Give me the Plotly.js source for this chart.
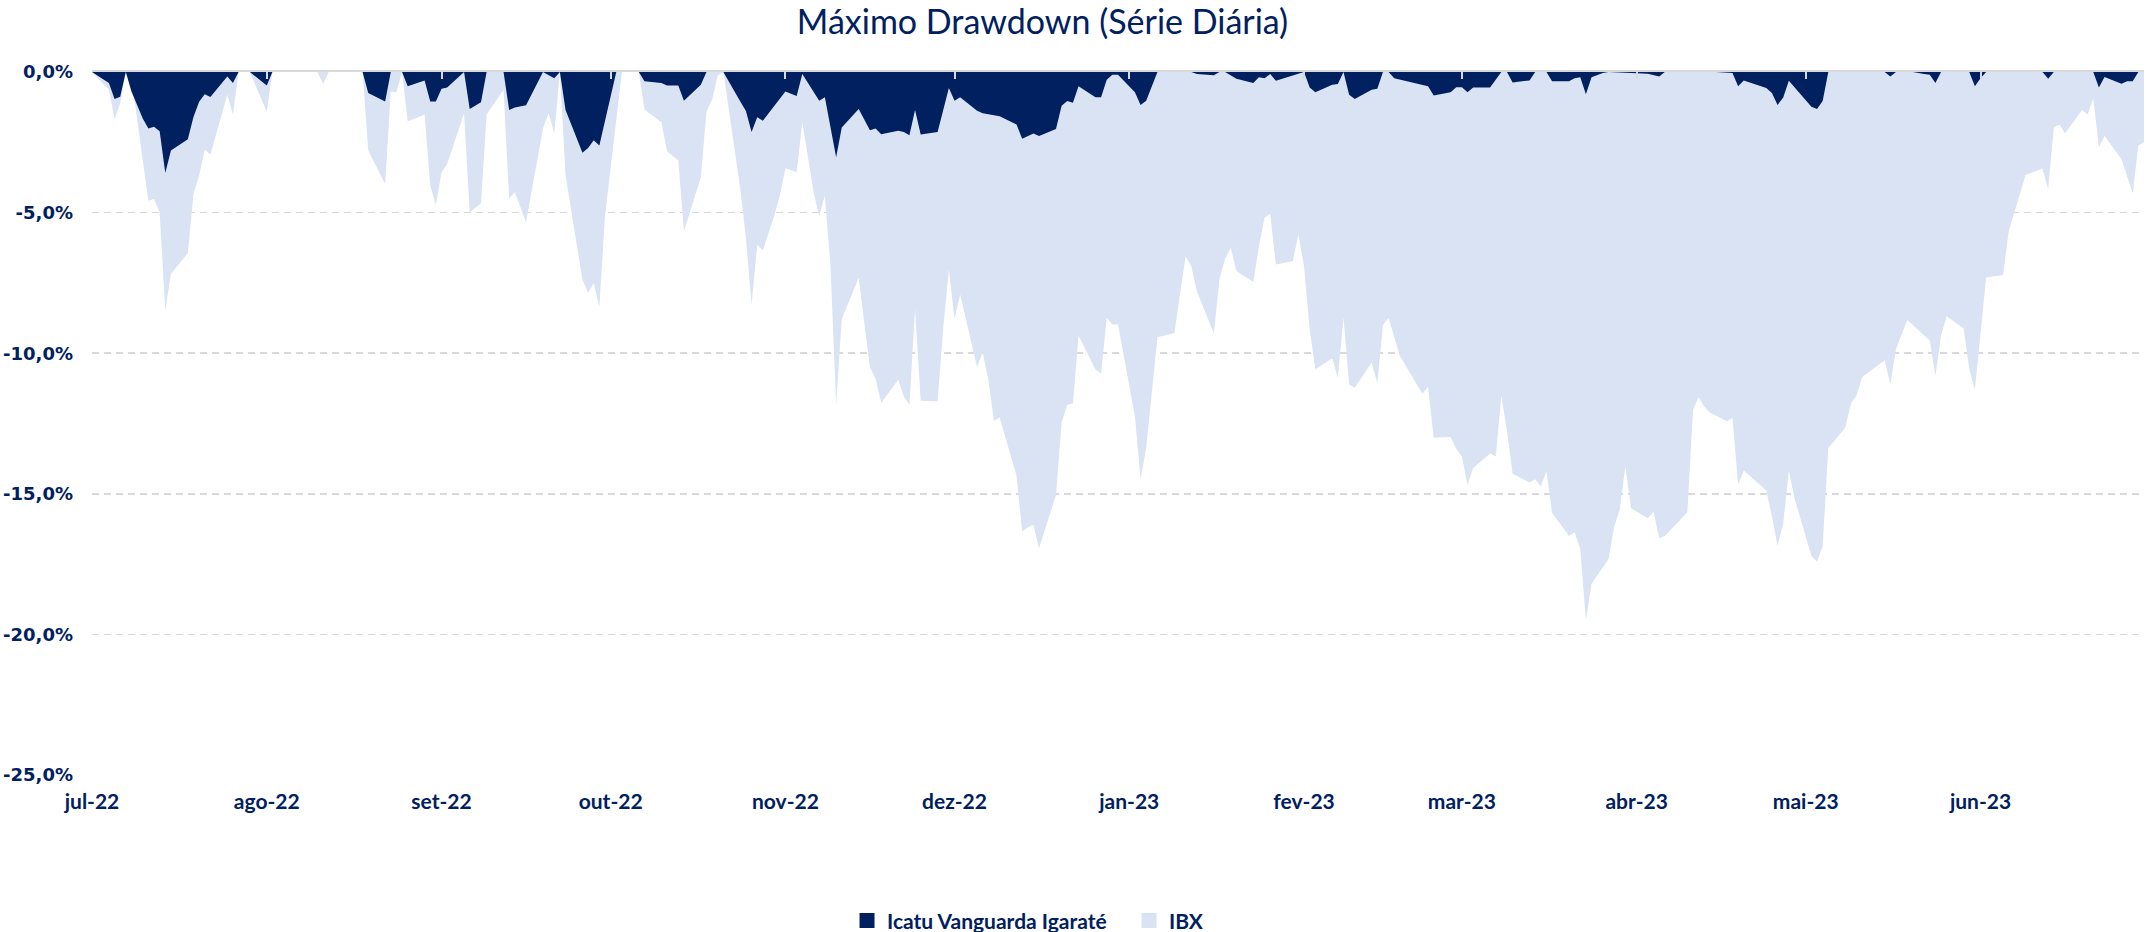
<!DOCTYPE html>
<html>
<head>
<meta charset="utf-8">
<script src="https://cdn.plot.ly/plotly-3.0.1.min.js"></script>
<style>
html,body{margin:0;padding:0;background:#fff;}
#chart{width:2146px;height:932px;}
</style>
</head>
<body>
<div id="chart"></div>
<script>
// ---- data (drawdown, %) ----
const ibxDates = ['2022-07-01','2022-07-04','2022-07-05','2022-07-06','2022-07-07','2022-07-08','2022-07-11','2022-07-12','2022-07-13','2022-07-14','2022-07-15','2022-07-18','2022-07-19','2022-07-20','2022-07-21','2022-07-22','2022-07-25','2022-07-26','2022-07-27','2022-07-29','2022-08-01','2022-08-02','2022-08-10','2022-08-11','2022-08-12','2022-08-18','2022-08-19','2022-08-22','2022-08-23','2022-08-24','2022-08-25','2022-08-26','2022-08-29','2022-08-30','2022-08-31','2022-09-01','2022-09-02','2022-09-05','2022-09-06','2022-09-08','2022-09-09','2022-09-12','2022-09-13','2022-09-14','2022-09-16','2022-09-19','2022-09-20','2022-09-21','2022-09-22','2022-09-23','2022-09-26','2022-09-27','2022-09-28','2022-09-29','2022-09-30','2022-10-03','2022-10-06','2022-10-07','2022-10-10','2022-10-11','2022-10-13','2022-10-14','2022-10-17','2022-10-18','2022-10-19','2022-10-20','2022-10-21','2022-10-24','2022-10-25','2022-10-26','2022-10-27','2022-10-28','2022-10-30','2022-10-31','2022-11-01','2022-11-03','2022-11-04','2022-11-05','2022-11-06','2022-11-07','2022-11-08','2022-11-09','2022-11-10','2022-11-11','2022-11-14','2022-11-16','2022-11-17','2022-11-18','2022-11-21','2022-11-22','2022-11-23','2022-11-24','2022-11-25','2022-11-28','2022-11-29','2022-11-30','2022-12-01','2022-12-02','2022-12-05','2022-12-06','2022-12-07','2022-12-08','2022-12-09','2022-12-12','2022-12-13','2022-12-14','2022-12-15','2022-12-16','2022-12-19','2022-12-20','2022-12-21','2022-12-22','2022-12-23','2022-12-26','2022-12-27','2022-12-28','2022-12-29','2022-12-30','2023-01-02','2023-01-03','2023-01-04','2023-01-06','2023-01-09','2023-01-11','2023-01-12','2023-01-13','2023-01-16','2023-01-17','2023-01-18','2023-01-19','2023-01-20','2023-01-23','2023-01-24','2023-01-25','2023-01-26','2023-01-27','2023-01-30','2023-01-31','2023-02-01','2023-02-02','2023-02-03','2023-02-06','2023-02-07','2023-02-08','2023-02-09','2023-02-10','2023-02-13','2023-02-14','2023-02-15','2023-02-16','2023-02-17','2023-02-18','2023-02-22','2023-02-23','2023-02-24','2023-02-27','2023-02-28','2023-03-01','2023-03-02','2023-03-03','2023-03-06','2023-03-07','2023-03-08','2023-03-09','2023-03-10','2023-03-13','2023-03-14','2023-03-15','2023-03-16','2023-03-17','2023-03-20','2023-03-21','2023-03-22','2023-03-23','2023-03-24','2023-03-27','2023-03-28','2023-03-29','2023-03-30','2023-03-31','2023-04-03','2023-04-04','2023-04-05','2023-04-06','2023-04-10','2023-04-11','2023-04-12','2023-04-13','2023-04-14','2023-04-17','2023-04-18','2023-04-19','2023-04-20','2023-04-24','2023-04-25','2023-04-26','2023-04-27','2023-04-28','2023-04-29','2023-05-02','2023-05-03','2023-05-04','2023-05-05','2023-05-08','2023-05-09','2023-05-10','2023-05-11','2023-05-15','2023-05-16','2023-05-17','2023-05-19','2023-05-23','2023-05-24','2023-05-25','2023-05-26','2023-05-29','2023-05-30','2023-05-31','2023-06-02','2023-06-05','2023-06-06','2023-06-07','2023-06-09','2023-06-12','2023-06-13','2023-06-14','2023-06-15','2023-06-16','2023-06-19','2023-06-20','2023-06-21','2023-06-22','2023-06-23','2023-06-26','2023-06-27','2023-06-28','2023-06-29','2023-06-30'];
const ibxValues = [0,-0.63,-1.67,-1.11,0,-0.22,-4.58,-4.52,-5.0,-8.47,-7.18,-6.44,-4.34,-3.68,-2.75,-2.94,-0.81,-1.51,0,0,-1.41,0,0,-0.43,0,0,-2.79,-3.98,-0.69,-0.72,0,-1.75,-1.51,-4.04,-4.74,-3.57,-3.27,-1.47,-5.0,-4.67,-1.51,-0.63,-4.50,-4.28,-5.33,-2.01,-1.47,-2.19,0,-3.68,-7.39,-7.85,-7.51,-8.35,-5.12,0,0,-1.33,-1.79,-2.82,-3.15,-5.66,-3.74,-1.41,-0.99,-0.12,0,-4.16,-5.9,-8.28,-6.15,-6.35,-5.12,-4.40,-3.42,-3.56,-1.79,-3.09,-4.28,-5.12,-4.40,-6.9,-11.83,-8.78,-7.32,-10.52,-10.91,-11.77,-10.94,-11.53,-11.83,-8.42,-11.69,-11.71,-9.10,-7.02,-8.78,-7.91,-10.49,-9.97,-10.94,-12.40,-12.28,-14.36,-16.34,-16.20,-16.10,-16.94,-15.04,-12.46,-11.83,-11.79,-9.37,-10.58,-10.72,-8.74,-8.98,-8.98,-12.24,-14.48,-13.37,-9.43,-9.28,-6.55,-6.91,-7.81,-9.30,-7.37,-6.63,-6.25,-7.08,-7.47,-6.2,-5.18,-5.04,-6.85,-6.73,-5.78,-6.92,-9.14,-10.57,-10.19,-10.87,-8.73,-11.11,-11.23,-10.33,-11.07,-9.0,-8.75,-9.45,-10.1,-11.44,-11.19,-13.01,-12.98,-13.40,-13.67,-14.68,-14.08,-13.57,-13.67,-11.52,-12.77,-14.29,-14.60,-14.48,-14.74,-14.2,-15.67,-16.5,-16.37,-16.96,-19.5,-18.2,-17.33,-16.18,-15.56,-14.02,-15.51,-15.87,-15.63,-16.58,-16.5,-15.66,-12.02,-11.56,-11.9,-12.11,-12.42,-12.30,-14.68,-14.17,-14.88,-15.81,-16.86,-16.05,-14.2,-15.15,-17.21,-17.42,-16.86,-13.37,-12.65,-11.79,-11.5,-10.85,-10.25,-11.11,-9.86,-8.82,-9.55,-10.81,-9.36,-8.69,-9.12,-10.55,-11.31,-7.31,-7.22,-5.66,-5.0,-3.66,-3.44,-4.16,-1.97,-1.87,-2.19,-1.35,-1.51,-0.93,-2.67,-2.28,-3.09,-3.68,-4.31,-2.61,-2.5];

const fundDates = ['2022-07-01','2022-07-04','2022-07-05','2022-07-06','2022-07-07','2022-07-08','2022-07-10','2022-07-11','2022-07-12','2022-07-13','2022-07-14','2022-07-15','2022-07-18','2022-07-19','2022-07-20','2022-07-21','2022-07-22','2022-07-25','2022-07-26','2022-07-27','2022-07-29','2022-08-01','2022-08-02','2022-08-18','2022-08-19','2022-08-22','2022-08-23','2022-08-25','2022-08-26','2022-08-29','2022-08-30','2022-08-31','2022-09-01','2022-09-02','2022-09-05','2022-09-06','2022-09-08','2022-09-09','2022-09-12','2022-09-13','2022-09-14','2022-09-16','2022-09-19','2022-09-21','2022-09-22','2022-09-23','2022-09-26','2022-09-27','2022-09-28','2022-09-29','2022-10-02','2022-10-06','2022-10-07','2022-10-10','2022-10-11','2022-10-13','2022-10-14','2022-10-17','2022-10-18','2022-10-21','2022-10-24','2022-10-25','2022-10-26','2022-10-27','2022-10-28','2022-11-01','2022-11-03','2022-11-04','2022-11-07','2022-11-08','2022-11-10','2022-11-11','2022-11-14','2022-11-16','2022-11-17','2022-11-18','2022-11-21','2022-11-22','2022-11-23','2022-11-24','2022-11-25','2022-11-28','2022-11-30','2022-12-01','2022-12-02','2022-12-05','2022-12-06','2022-12-07','2022-12-09','2022-12-12','2022-12-13','2022-12-15','2022-12-16','2022-12-19','2022-12-20','2022-12-21','2022-12-22','2022-12-23','2022-12-26','2022-12-27','2022-12-28','2022-12-29','2022-12-30','2023-01-02','2023-01-03','2023-01-04','2023-01-06','2023-01-12','2023-01-13','2023-01-16','2023-01-17','2023-01-18','2023-01-20','2023-01-23','2023-01-24','2023-01-25','2023-01-26','2023-01-27','2023-01-31','2023-02-01','2023-02-02','2023-02-03','2023-02-06','2023-02-07','2023-02-08','2023-02-09','2023-02-10','2023-02-13','2023-02-14','2023-02-15','2023-02-16','2023-02-17','2023-02-23','2023-02-24','2023-02-27','2023-02-28','2023-03-01','2023-03-02','2023-03-03','2023-03-06','2023-03-08','2023-03-09','2023-03-10','2023-03-13','2023-03-14','2023-03-16','2023-03-17','2023-03-20','2023-03-21','2023-03-22','2023-03-23','2023-03-24','2023-03-26','2023-03-27','2023-04-03','2023-04-05','2023-04-06','2023-04-15','2023-04-18','2023-04-19','2023-04-20','2023-04-24','2023-04-25','2023-04-26','2023-04-27','2023-04-28','2023-05-02','2023-05-03','2023-05-04','2023-05-05','2023-05-15','2023-05-16','2023-05-17','2023-05-20','2023-05-22','2023-05-23','2023-05-24','2023-05-25','2023-05-30','2023-05-31','2023-06-01','2023-06-02','2023-06-12','2023-06-13','2023-06-14','2023-06-21','2023-06-22','2023-06-23','2023-06-26','2023-06-27','2023-06-28','2023-06-29','2023-06-30'];
const fundValues = [0,-0.39,-0.96,-0.88,0,-0.69,-1.65,-2.01,-1.95,-2.11,-3.59,-2.79,-2.39,-1.6,-1.06,-0.79,-0.89,-0.16,-0.39,0,0,-0.48,0,0,-0.75,-1.05,0,0,-0.51,-0.30,-1.05,-1.05,-0.60,-0.55,0,-1.32,-1.08,0,0,-1.35,-1.26,-1.18,0,-0.22,0,-1.35,-2.87,-2.70,-2.43,-2.61,0,0,-0.33,-0.39,-0.48,-0.48,-1.02,-0.45,0,0,-1.05,-1.39,-2.13,-1.61,-1.73,-0.69,-0.85,-0.07,-1.02,-0.90,-3.03,-1.97,-1.32,-2.07,-2.01,-2.21,-2.09,-2.13,-2.25,-1.35,-2.22,-2.13,-0.57,-1.02,-0.90,-1.38,-1.47,-1.50,-1.57,-1.87,-2.37,-2.19,-2.28,-2.03,-1.20,-1.03,-1.09,-0.51,-0.90,-0.90,-0.28,-0.10,-0.10,-0.72,-1.17,-1.02,0,0,-0.07,-0.12,0,0,-0.24,-0.39,-0.19,-0.22,-0.07,-0.31,-0.07,0,-0.55,-0.72,-0.45,-0.43,0,-0.81,-0.96,-0.63,-0.60,0,0,-0.22,-0.51,-0.84,-0.72,-0.54,-0.54,-0.72,-0.55,-0.55,0,0,-0.37,-0.30,0,0,-0.33,-0.33,-0.22,-0.19,-0.79,-0.19,-0.04,0,-0.06,-0.16,0,0,-0.04,-0.51,-0.30,-0.57,-0.75,-1.17,-0.91,-0.31,-1.24,-1.32,-1.03,0,0,-0.16,0,0,-0.07,-0.10,-0.39,0,0,-0.51,-0.22,0,0,-0.24,0,0,-0.55,-0.18,-0.42,-0.33,-0.33,0,0];

const seriesNames = ['Icatu Vanguarda Igaraté', 'IBX'];
const monthTicks = ['2022-07-01','2022-08-01','2022-09-01','2022-10-01','2022-11-01','2022-12-01','2023-01-01','2023-02-01','2023-03-01','2023-04-01','2023-05-01','2023-06-01'];
const monthLabels = ['jul-22','ago-22','set-22','out-22','nov-22','dez-22','jan-23','fev-23','mar-23','abr-23','mai-23','jun-23'];
const yTicks = [0,-5,-10,-15,-20,-25];
const yLabels = ['0,0%','-5,0%','-10,0%','-15,0%','-20,0%','-25,0%'];

const NAVY = '#002060';
const LIGHT = '#DAE3F3';
const xRange = ['2022-07-01','2023-06-30'];

const traces = [
  {x: ibxDates, y: ibxValues, type:'scatter', mode:'lines', fill:'tozeroy',
   fillcolor: LIGHT, line:{color: LIGHT, width:0}, showlegend:false, hoverinfo:'skip'},
  {x: fundDates, y: fundValues, type:'scatter', mode:'lines', fill:'tozeroy',
   fillcolor: NAVY, line:{color: NAVY, width:0}, showlegend:false, hoverinfo:'skip'},
  {x:[null], y:[null], type:'scatter', mode:'markers', name: seriesNames[0], xaxis:'x2',
   marker:{symbol:'square', size:15, color: NAVY}},
  {x:[null], y:[null], type:'scatter', mode:'markers', name: seriesNames[1], xaxis:'x2',
   marker:{symbol:'square', size:15, color: LIGHT}}
];

const layout = {
  width: 2146, height: 932,
  margin: {l:92, r:2, t:72, b:157},
  paper_bgcolor:'#fff', plot_bgcolor:'#fff',
  showlegend: true,
  title: {text:'Máximo Drawdown (Série Diária)', font:{family:'Lato', size:34, color:NAVY},
          xref:'container', x:0.4858, xanchor:'center', yref:'container', y:0.976, yanchor:'middle'},
  xaxis: {type:'date', range:xRange, tickvals:monthTicks, ticktext:monthLabels,
          showgrid:false, zeroline:false, showline:false, ticks:'',
          ticklabelstandoff: 12,
          tickfont:{family:'Lato', size:21, color:NAVY, weight:700}},
  xaxis2: {type:'date', range:xRange, overlaying:'x', side:'top', anchor:'y',
           tickvals:monthTicks, showticklabels:false, showgrid:false, zeroline:false,
           showline:true, linecolor:'#D9D9D9', linewidth:2,
           ticks:'inside', ticklen:7, tickwidth:2, tickcolor:'#D9D9D9'},
  yaxis: {range:[-25,0], tickvals:yTicks, ticktext:yLabels, zeroline:false,
          showgrid:true, gridcolor:'#D9D9D9', gridwidth:1.5, griddash:'7px,5px',
          showline:false, ticks:'', ticklabelstandoff: 18,
          tickfont:{family:'DejaVu Sans', size:18, color:NAVY, weight:700}},
  legend: {orientation:'h', xref:'container', yref:'container', x:0.3947, xanchor:'left',
           y:0.012, yanchor:'middle', font:{family:'Lato', size:21, color:NAVY, weight:700},
           itemwidth:30, tracegroupgap:0, entrywidth:237, entrywidthmode:'pixels'}
};

Plotly.newPlot('chart', traces, layout, {displayModeBar:false, staticPlot:true});
</script>
</body>
</html>
